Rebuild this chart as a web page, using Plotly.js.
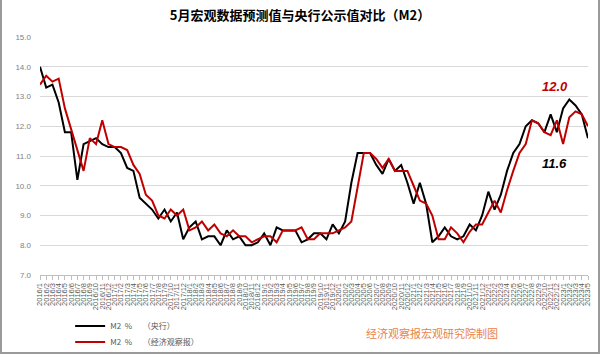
<!DOCTYPE html>
<html>
<head>
<meta charset="utf-8">
<script src="https://cdn.plot.ly/plotly-3.0.1.min.js"></script>
<style>
  html, body { margin: 0; padding: 0; background: #fff; }
  #wrap { position: relative; width: 600px; height: 354px; }
  #chart { width: 600px; height: 354px; }
  #frame { position: absolute; left: 0; top: 0; width: 600px; height: 354px; box-sizing: border-box;
           border-left: 2px solid #9a9a9a; border-right: 2px solid #9a9a9a; border-bottom: 2px solid #9a9a9a; pointer-events: none; }
</style>
</head>
<body>
<div id="wrap"><div id="chart"></div><div id="frame"></div></div>
<script>
// Months 2016/1 .. 2023/5
const months = [];
for (let y = 2016; y <= 2023; y++) {
  for (let m = 1; m <= 12; m++) {
    if (y === 2023 && m > 5) break;
    months.push(y + '/' + m);
  }
}

// M2 % (央行) — central bank published values
const pbocM2 = [
  14.0,13.3,13.4,12.8,11.8,11.8,10.2,11.4,11.5,11.6,11.4,11.3,
  11.3,11.1,10.6,10.5,9.6,9.4,9.2,8.9,9.2,8.8,9.1,8.2,
  8.6,8.8,8.2,8.3,8.3,8.0,8.5,8.2,8.3,8.0,8.0,8.1,
  8.4,8.0,8.6,8.5,8.5,8.5,8.1,8.2,8.4,8.4,8.2,8.7,
  8.4,8.8,10.1,11.1,11.1,11.1,10.7,10.4,10.9,10.5,10.7,10.1,
  9.4,10.1,9.4,8.1,8.3,8.6,8.3,8.2,8.3,8.7,8.5,9.0,
  9.8,9.2,9.7,10.5,11.1,11.4,12.0,12.2,12.1,11.8,12.4,11.8,
  12.6,12.9,12.7,12.4,11.6
];

// M2 % (经济观察报) — forecast values
const eeoM2 = [
  13.4,13.7,13.5,13.6,12.6,11.9,11.2,10.5,11.6,11.4,12.2,11.4,
  11.3,11.3,11.2,10.7,10.4,9.7,9.5,9.0,8.9,9.2,9.0,9.2,
  8.5,8.6,8.8,8.5,8.7,8.4,8.3,8.5,8.3,8.3,8.1,8.2,
  8.3,8.3,8.1,8.5,8.5,8.5,8.6,8.2,8.2,8.4,8.4,8.4,
  8.5,8.6,8.8,10.0,11.1,11.1,10.9,10.6,10.9,10.5,10.5,10.5,
  10.0,9.5,9.4,9.0,8.2,8.2,8.6,8.4,8.1,8.45,8.7,8.7,
  9.1,9.5,9.1,9.85,10.5,11.1,11.4,12.2,12.1,11.8,11.7,12.2,
  11.4,12.3,12.5,12.4,12.0
];

const seriesNames = ['M2  %      （央行）', 'M2  %      （经济观察报）'];
const titleText = '5月宏观数据预测值与央行公示值对比（M2）';
const creditText = '经济观察报宏观研究院制图';

const cjk = '"Noto Sans CJK SC", "Noto Sans", sans-serif';
const last = months.length - 1;

const traces = [
  { x: months, y: pbocM2, type: 'scatter', mode: 'lines', name: seriesNames[0], legend: 'legend',
    line: { color: '#000000', width: 2 } },
  { x: months, y: eeoM2, type: 'scatter', mode: 'lines', name: seriesNames[1], legend: 'legend2',
    line: { color: '#C00000', width: 2 } }
];

const legendStyle = (yy) => ({
  x: 0.055, xanchor: 'left', y: yy, yanchor: 'top', orientation: 'v',
  font: { family: cjk, size: 8, color: '#595959' }, bgcolor: 'rgba(0,0,0,0)',
  itemwidth: 30
});

const layout = {
  width: 600, height: 354,
  margin: { l: 40, r: 12, t: 37, b: 79, autoexpand: false },
  paper_bgcolor: '#ffffff', plot_bgcolor: '#ffffff',
  font: { family: cjk, color: '#595959', size: 8 },
  title: { text: '<b>' + titleText + '</b>', x: 0.5, xanchor: 'center', y: 0.955, yanchor: 'middle',
           font: { family: cjk, size: 13, color: '#000000' } },
  xaxis: {
    type: 'category', range: [0, last], automargin: false,
    tickmode: 'array', tickvals: months, ticktext: months,
    tickangle: -90, tickfont: { family: 'Liberation Sans, Arial, sans-serif', size: 7.5, color: '#595959' },
    ticks: 'outside', ticklen: 4, tickcolor: '#bfbfbf', tickwidth: 1,
    showline: true, linecolor: '#bfbfbf', linewidth: 1,
    showgrid: false, zeroline: false, fixedrange: true
  },
  yaxis: {
    range: [7, 15], dtick: 1, tick0: 7, tickformat: '.1f', automargin: false,
    tickfont: { family: 'Liberation Sans, Arial, sans-serif', size: 8, color: '#808080' },
    showgrid: true, gridcolor: '#d9d9d9', gridwidth: 1,
    showline: false, zeroline: false, ticks: '', ticklabelstandoff: 8, fixedrange: true
  },
  showlegend: true,
  legend: legendStyle(-0.153),
  legend2: legendStyle(-0.221),
  annotations: [
    { x: months[last], y: eeoM2[last], xref: 'x', yref: 'y', showarrow: false,
      text: '<b><i>' + eeoM2[last].toFixed(1) + '</i></b>', xshift: -33, yshift: 40,
      font: { family: 'Liberation Sans, Arial, sans-serif', size: 13, color: '#C00000' } },
    { x: months[last], y: pbocM2[last], xref: 'x', yref: 'y', showarrow: false,
      text: '<b><i>' + pbocM2[last].toFixed(1) + '</i></b>', xshift: -34, yshift: -25,
      font: { family: 'Liberation Sans, Arial, sans-serif', size: 13, color: '#000000' } },
    { x: 0.715, y: -0.244, xref: 'paper', yref: 'paper', showarrow: false,
      text: creditText, xanchor: 'center', yanchor: 'middle',
      font: { family: cjk, size: 11, color: '#E8834A' } }
  ]
};

Plotly.newPlot('chart', traces, layout, { displayModeBar: false, staticPlot: true });
</script>
</body>
</html>
